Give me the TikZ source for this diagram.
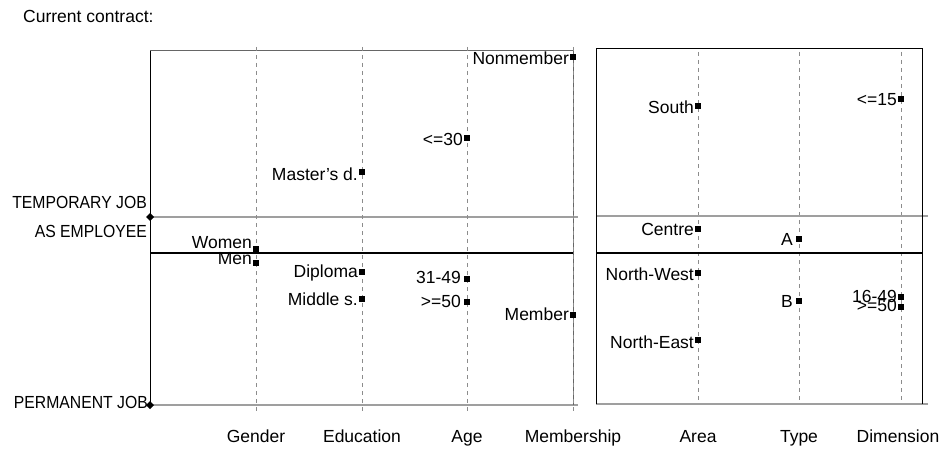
\documentclass[tikz,border=0pt]{standalone}
\usepackage{fontspec}
\setmainfont{Liberation Sans}
\newfontfamily\capsfont{Liberation Sans}[FakeStretch=0.9]
\begin{document}
\begin{tikzpicture}[x=1pt,y=-1pt,
  dot/.style={rectangle,fill=black,inner sep=0pt,minimum width=5.5pt,minimum height=6.5pt},
  lab/.style={anchor=base east,inner sep=1pt,font=\fontsize{17.5}{20}\selectfont},
  sidelab/.style={anchor=base east,inner sep=0pt,font=\capsfont\fontsize{17.5}{20}\selectfont},
  axlab/.style={anchor=base,font=\fontsize{17.5}{20}\selectfont},
  guide/.style={draw=gray!90,line width=0.9pt,dash pattern=on 4pt off 4pt},
  thick line/.style={line width=2.2pt,black},
  thin grey/.style={draw=gray!75,line width=1.2pt}]
\useasboundingbox (0,0) rectangle (945,452);
% title
\node[anchor=base west,inner sep=0pt,font=\fontsize{17.5}{20}\selectfont] (title) at (23,23) {Current contract:};
% ---------- left panel ----------
\coordinate (LTL) at (150,51);
\coordinate (LTR) at (573,51);
\coordinate (LML) at (150,217);
\coordinate (LMR) at (578,217);
\coordinate (LBL) at (150,405);
\coordinate (LBR) at (578,405);
\coordinate (LZL) at (150,253);
\coordinate (LZR) at (573,253);
\draw[gray!80!black,line width=1pt] (LTL) -- (LTR);
\draw[thin grey] (LML) -- (LMR);
\draw[thin grey] (LBL) -- (LBR);
\draw[gray!80!black,line width=0.8pt] (LTR) -- (573,405);
\foreach \x/\n in {256/g,362/e,467/a,573/m}{
  \coordinate (top\n) at (\x,47);
  \coordinate (bot\n) at (\x,411);
  \draw[guide] (top\n) -- (bot\n);
}
\draw[thick line] (LZL) -- (LZR);
\draw[black,line width=1pt] (LTL) -- (LBL);
\fill (LML) +(-4,0) -- +(0,-4) -- +(4,0) -- +(0,4) -- cycle;
\fill (LBL) +(-4,0) -- +(0,-4) -- +(4,0) -- +(0,4) -- cycle;
\node[sidelab] (tj) at (147,208) {TEMPORARY JOB};
\node[sidelab] (ae) at (147,237) {AS EMPLOYEE};
\node[sidelab] (pj) at (148,408) {PERMANENT JOB};
% points
\node[dot] (women) at (256,249) {};
\node[dot] (men) at (256,263) {};
\node[dot] (master) at (362,172) {};
\node[dot] (diploma) at (362,272) {};
\node[dot] (middle) at (362,299) {};
\node[dot] (a30) at (467,138) {};
\node[dot] (a3149) at (467,279) {};
\node[dot] (a50) at (467,302) {};
\node[dot] (nonmem) at (573,57) {};
\node[dot] (mem) at (573,315) {};
\node[lab] at ([yshift=1pt]women.west) {Women};
\node[lab] at ([yshift=-1.5pt]men.west) {Men};
\node[lab] at ([yshift=-8pt]master.west) {Master's d.};
\node[lab] at ([yshift=-5pt]diploma.west) {Diploma};
\node[lab] at ([yshift=-6pt]middle.west) {Middle s.};
\node[lab] at ([yshift=-7pt]a30.west) {<=30};
\node[lab] at ([xshift=-2pt,yshift=-4pt]a3149.west) {31-49};
\node[lab] at ([xshift=-2pt,yshift=-5pt]a50.west) {>=50};
\node[lab] at ([yshift=-8pt]nonmem.west) {Nonmember};
\node[lab] at ([yshift=-5pt]mem.west) {Member};
% axis labels
\node[axlab] (xg) at (256,442) {Gender};
\node[axlab] (xe) at (362,442) {Education};
\node[axlab] (xa) at (467,442) {Age};
\node[axlab] (xm) at (573,442) {Membership};
% ---------- right panel ----------
\coordinate (RTL) at (596,49);
\coordinate (RTR) at (922,49);
\coordinate (RBL) at (596,404);
\coordinate (RBR) at (922,404);
\foreach \x/\n in {698/ar,799/ty,901/di}{
  \coordinate (top\n) at (\x,52);
  \coordinate (bot\n) at (\x,404);
  \draw[guide] (top\n) -- (bot\n);
}
\draw[thin grey] (596,216) -- (928,216);
\draw[thin grey] (RBL) -- (928,404);
\draw[black,line width=1pt] (RBL) -- (RTL) -- (RTR) -- (RBR);
\draw[thick line] (596,253) -- (923,253);
\node[dot] (south) at (698,106) {};
\node[dot] (centre) at (698,229) {};
\node[dot] (nw) at (698,273) {};
\node[dot] (ne) at (698,340) {};
\node[dot] (tA) at (799,239) {};
\node[dot] (tB) at (799,301) {};
\node[dot] (d15) at (901,99) {};
\node[dot] (d1649) at (901,297) {};
\node[dot] (d50) at (901,307) {};
\node[lab] at ([yshift=-7pt]south.west) {South};
\node[lab] at ([yshift=-6pt]centre.west) {Centre};
\node[lab] at ([yshift=-7pt]nw.west) {North-West};
\node[lab] at ([yshift=-8pt]ne.west) {North-East};
\node[lab] at ([xshift=-2pt,yshift=-6pt]tA.west) {A};
\node[lab] at ([xshift=-2pt,yshift=-6pt]tB.west) {B};
\node[lab] at ([yshift=-6pt]d15.west) {<=15};
\node[lab] at ([yshift=-5pt]d1649.west) {16-49};
\node[lab] at ([yshift=-4pt]d50.west) {>=50};
\node[axlab] (xar) at (698,442) {Area};
\node[axlab] (xty) at (799,442) {Type};
\node[axlab] (xdi) at (898,442) {Dimension};
\end{tikzpicture}
\end{document}
